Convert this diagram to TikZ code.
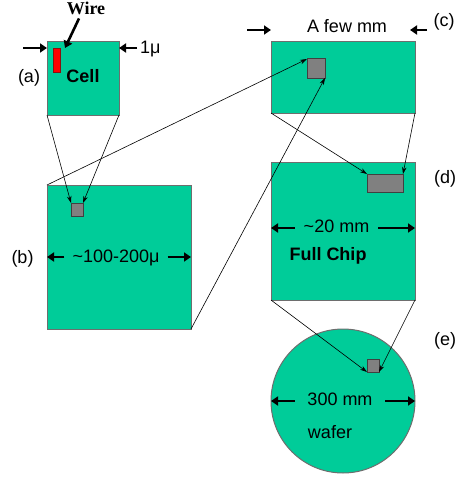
\documentclass[tikz,border=0pt]{standalone}
\usepackage{fontspec}
\setmainfont{Liberation Sans}
\newfontfamily\wirefont{Liberation Serif}
\usetikzlibrary{arrows.meta,positioning,calc}
\definecolor{chipgreen}{HTML}{00CC99}
\definecolor{edgegray}{HTML}{6E6E6E}
\definecolor{blockgray}{HTML}{808080}
\definecolor{blockedge}{HTML}{404040}
\definecolor{wirered}{HTML}{FF0000}
\definecolor{wireedge}{HTML}{8A1010}
\newcommand\labelsize{\fontsize{18}{21}\selectfont}
\tikzset{
  chip/.style={draw=edgegray, fill=chipgreen, line width=1pt, inner sep=0pt, outer sep=0pt, anchor=north west},
  block/.style={draw=blockedge, fill=blockgray, line width=1pt, inner sep=0pt, outer sep=0pt, anchor=north west},
  wirebar/.style={draw=wireedge, fill=wirered, line width=0.8pt, inner sep=0pt, outer sep=0pt, anchor=north west},
  dimarrow/.style={-{Triangle[length=7pt,width=9pt]}, line width=2.6pt, draw=black},
  zoomline/.style={-{Stealth[length=7pt,width=4.5pt]}, line width=0.6pt, draw=black},
  tag/.style={font=\labelsize, anchor=base, inner ysep=0pt, inner xsep=0pt}
}
\begin{document}
\begin{tikzpicture}[x=1pt,y=-1pt]
  \useasboundingbox (0,0) rectangle (472,487);
  \node[chip, minimum width=72pt, minimum height=73pt] (cell) at (47,42) {};
  \node[chip, minimum width=144pt, minimum height=144pt] (chipb) at (47,185) {};
  \node[chip, minimum width=144pt, minimum height=71pt] (chipc) at (271,42) {};
  \node[chip, minimum width=144pt, minimum height=138pt] (chipd) at (271,162) {};
  \node[chip, circle, minimum size=144pt, anchor=center] (wafer) at (343,401) {};

  \node[wirebar, minimum width=7pt, minimum height=24pt] (wire) at (53,48) {};
  \node[block, minimum width=12pt, minimum height=13pt] (sqb) at (71,203) {};
  \node[block, minimum width=18pt, minimum height=19pt] (sqc) at (307,59) {};
  \node[block, minimum width=36pt, minimum height=18pt] (rectd) at (367,174) {};
  \node[block, minimum width=12pt, minimum height=13pt] (sqe) at (367,359) {};

  \node[tag, font=\labelsize\wirefont\bfseries, inner ysep=3pt] (wirelbl) at (86,15) {Wire};
  \node[tag, font=\labelsize\bfseries] (celltxt) at (83,82) {Cell};
  \node[tag, anchor=base west] (cellsize) at (140,53) {1μ};
  \node[tag, inner xsep=8pt] (dimb) at (116,262) {\textasciitilde100-200μ};
  \node[tag] (fewmm) at (347,33) {A few mm};
  \node[tag, inner xsep=9pt] (dimd) at (336.5,232) {\textasciitilde20 mm};
  \node[tag, font=\labelsize\bfseries] (fullchip) at (328,260) {Full Chip};
  \node[tag, inner xsep=12.5pt] (dime) at (340,405) {300 mm};
  \node[tag] (wafertxt) at (330,438) {wafer};

  \node[tag] (taga) at (29,82) {(a)};
  \node[tag] (tagb) at (22.5,263) {(b)};
  \node[tag] (tagc) at (444,27) {(c)};
  \node[tag] (tagd) at (445,183) {(d)};
  \node[tag] (tage) at (445,345) {(e)};

  \coordinate (cellL) at (23,48);
  \coordinate (fewL) at (247,30);
  \coordinate (fewR) at (427,30);
  \coordinate (dimdL) at ([yshift=3pt]chipd.west);
  \coordinate (dimdR) at ([yshift=3pt]chipd.east);

  \draw[dimarrow] ([xshift=-7pt]wirelbl.south) -- ([xshift=5pt]wire.north east);
  \draw[dimarrow] (cellL) -- (cellL -| cell.west);
  \draw[dimarrow] ([xshift=-3pt]cellsize.west |- cellL) -- (cellL -| cell.east);
  \draw[dimarrow] (dimb.west |- chipb.west) -- (chipb.west);
  \draw[dimarrow] (dimb.east |- chipb.east) -- (chipb.east);
  \draw[dimarrow] (fewL) -- (fewL -| chipc.west);
  \draw[dimarrow] (fewR) -- ([xshift=-5pt]fewR -| chipc.east);
  \draw[dimarrow] (dimd.west |- dimdL) -- (dimdL);
  \draw[dimarrow] (dimd.east |- dimdR) -- (dimdR);
  \draw[dimarrow] (dime.west |- wafer.west) -- (wafer.west);
  \draw[dimarrow] (dime.east |- wafer.east) -- (wafer.east);

  \draw[zoomline] (cell.south west) -- (sqb.north west);
  \draw[zoomline] (cell.south east) -- (sqb.north east);
  \draw[zoomline] (chipb.north west) -- (sqc.north west);
  \draw[zoomline] (chipb.south east) -- (sqc.south east);
  \draw[zoomline] (chipc.south west) -- (rectd.north west);
  \draw[zoomline] (chipc.south east) -- (rectd.north east);
  \draw[zoomline] (chipd.south west) -- (sqe.south west);
  \draw[zoomline] (chipd.south east) -- (sqe.south east);
\end{tikzpicture}
\end{document}
